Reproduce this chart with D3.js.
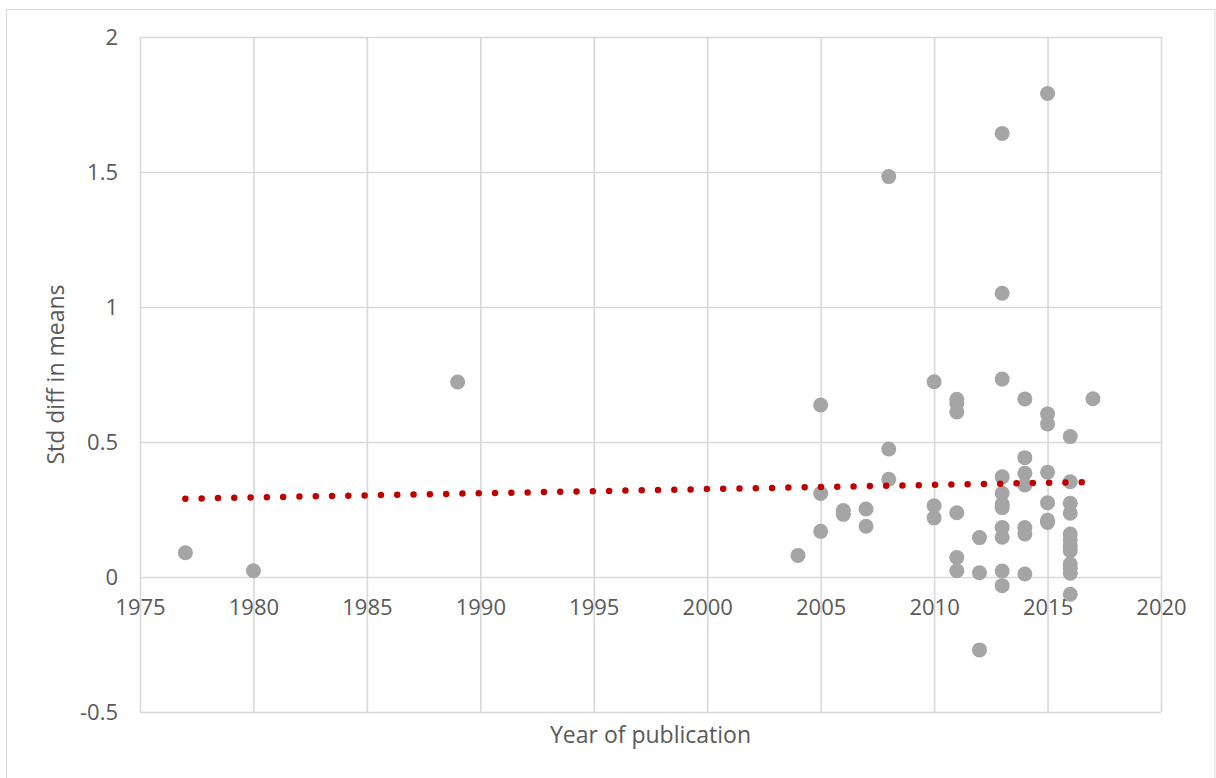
<!DOCTYPE html>
<html>
<head>
<meta charset="utf-8">
<script src="https://cdn.jsdelivr.net/npm/d3@7"></script>
<style>
  body { margin: 0; background: #fff; }
  text { font-family: "Open Sans", "Noto Sans", sans-serif; fill: #595959; }
</style>
</head>
<body>
<div id="chart"></div>
<script>
// publication year and standardised difference in means, one entry per study
const pubYear = [
  1977, 1980, 1989, 2004,
  2005, 2005, 2005,
  2006, 2006,
  2007, 2007,
  2008, 2008, 2008,
  2010, 2010, 2010,
  2011, 2011, 2011, 2011, 2011, 2011,
  2012, 2012, 2012,
  2013, 2013, 2013, 2013, 2013, 2013, 2013, 2013, 2013, 2013, 2013,
  2014, 2014, 2014, 2014, 2014, 2014, 2014,
  2015, 2015, 2015, 2015, 2015, 2015, 2015,
  2016, 2016, 2016, 2016, 2016, 2016, 2016, 2016, 2016, 2016, 2016, 2016,
  2017
];
const stdDiff = [
  0.090, 0.023, 0.722, 0.080,
  0.637, 0.309, 0.169,
  0.246, 0.232,
  0.252, 0.188,
  1.483, 0.474, 0.362,
  0.723, 0.264, 0.219,
  0.658, 0.643, 0.611, 0.238, 0.072, 0.023,
  0.146, 0.016, -0.270,
  1.643, 1.051, 0.733, 0.371, 0.310, 0.270, 0.257, 0.183, 0.147, 0.022, -0.032,
  0.659, 0.442, 0.384, 0.341, 0.183, 0.159, 0.011,
  1.791, 0.604, 0.567, 0.388, 0.275, 0.210, 0.202,
  0.520, 0.353, 0.273, 0.236, 0.159, 0.137, 0.115, 0.097, 0.048, 0.032, 0.014, -0.064,
  0.660
];

// linear trendline end points as drawn
const trendYear = [1977, 2017];
const trendValue = [0.290, 0.352];

const xTicks = [1975, 1980, 1985, 1990, 1995, 2000, 2005, 2010, 2015, 2020];
const yTicks = [-0.5, 0, 0.5, 1, 1.5, 2];

const width = 1216;
const height = 778;
const plot = { left: 140, right: 1161, top: 37, bottom: 712 };
const gridColor = "#d9d9d9";

const svg = d3.select("#chart")
  .append("svg")
  .attr("width", width)
  .attr("height", height);

// chart frame (Excel chart area border)
svg.append("rect")
  .attr("x", 6.5).attr("y", 9.5)
  .attr("width", 1215 - 6.5).attr("height", height)
  .attr("fill", "none")
  .attr("stroke", gridColor)
  .attr("stroke-width", 1);

const x = d3.scaleLinear().domain([1975, 2020]).range([plot.left, plot.right]);
const y = d3.scaleLinear().domain([-0.5, 2]).range([plot.bottom, plot.top]);

// vertical gridlines
svg.append("g")
  .attr("transform", `translate(0, ${plot.bottom})`)
  .call(d3.axisBottom(x).tickValues(xTicks).tickSize(-(plot.bottom - plot.top)).tickFormat(""))
  .call(g => g.select(".domain").remove())
  .call(g => g.selectAll("line").attr("stroke", gridColor).attr("stroke-width", 1.6));

// horizontal gridlines + y labels (plain hyphen for negatives, like Excel)
svg.append("g")
  .attr("transform", `translate(${plot.left}, 0)`)
  .call(d3.axisLeft(y).tickValues(yTicks).tickSize(-(plot.right - plot.left)).tickPadding(22)
    .tickFormat(d => String(d)))
  .call(g => g.select(".domain").remove())
  .call(g => g.selectAll("line").attr("stroke", gridColor).attr("stroke-width", 1.6))
  .call(g => g.selectAll("text").style("font-size", "22px").attr("fill", "#595959"));

// x labels sit under the zero line
svg.append("g")
  .attr("transform", `translate(0, ${y(0)})`)
  .call(d3.axisBottom(x).tickValues(xTicks).tickSize(0).tickPadding(22).tickFormat(d3.format("d")))
  .call(g => g.select(".domain").remove())
  .call(g => g.selectAll("text").style("font-size", "22px").attr("fill", "#595959"));

// points
svg.append("g")
  .selectAll("circle")
  .data(pubYear.map((yr, i) => ({ yr, v: stdDiff[i] })))
  .enter()
  .append("circle")
  .attr("cx", d => x(d.yr))
  .attr("cy", d => y(d.v))
  .attr("r", 7.5)
  .attr("fill", "#a5a5a5");

// dotted trendline
const trendLine = d3.line()
  .x(d => x(d[0]))
  .y(d => y(d[1]));

svg.append("path")
  .datum(trendYear.map((yr, i) => [yr, trendValue[i]]))
  .attr("d", trendLine)
  .attr("fill", "none")
  .attr("stroke", "#c00000")
  .attr("stroke-width", 6.5)
  .attr("stroke-linecap", "round")
  .attr("stroke-dasharray", "0 16.3");

// axis titles
svg.append("text")
  .attr("x", (plot.left + plot.right) / 2)
  .attr("y", 743)
  .attr("text-anchor", "middle")
  .style("font-size", "23px")
  .text("Year of publication");

svg.append("text")
  .attr("transform", `translate(64, ${(plot.top + plot.bottom) / 2}) rotate(-90)`)
  .attr("text-anchor", "middle")
  .style("font-size", "23px")
  .text("Std diff in means");
</script>
</body>
</html>
